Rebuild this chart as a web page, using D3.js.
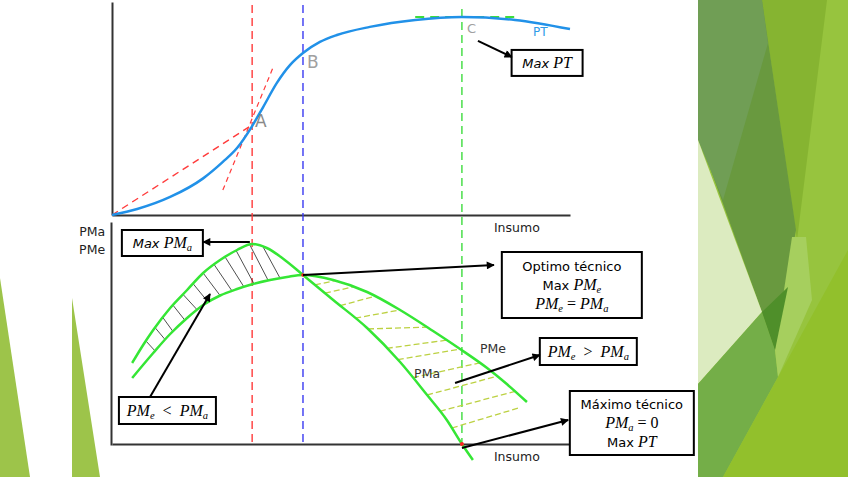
<!DOCTYPE html>
<html>
<head>
<meta charset="utf-8">
<script src="https://cdn.jsdelivr.net/npm/d3@7"></script>
<style>
  body { margin: 0; background: #fff; }
  svg { display: block; }
</style>
</head>
<body>
<div id="chart"></div>
<script>
// ---- data (Insumo on x, 0..10) ----
const insumoPT = [0, 0.55, 1.27, 1.99, 2.42, 2.73, 3.06, 3.30, 3.60, 3.89, 4.17, 4.54, 4.91, 5.63, 6.62, 7.64, 8.80, 10];
const valuesPT = [0, 3.0, 9.1, 18.5, 26.8, 33.8, 44.9, 54.5, 66.7, 75.8, 81.8, 87.4, 90.9, 95.0, 98.5, 100, 98.5, 93.9];

const insumoPMa = [0.44, 0.68, 0.90, 1.27, 1.64, 1.99, 2.36, 2.73, 3.06, 3.38, 3.73, 4.17, 4.83, 5.57, 6.29, 6.88, 7.31, 7.64, 7.88];
const valuesPMa = [40.5, 49.5, 57, 68, 77, 85.5, 92, 97, 100, 98, 92.75, 84.5, 72, 58, 41, 24.5, 12, 0, -8];

const insumoPMe = [0.44, 0.90, 1.27, 1.64, 1.99, 2.36, 2.73, 3.08, 3.45, 3.82, 4.17, 4.83, 5.57, 6.29, 7.01, 7.60, 8.19, 8.62, 9.06];
const valuesPMe = [33, 45.5, 55, 63, 69.5, 74.25, 77.5, 80, 82, 83.5, 84.5, 82, 76, 67, 56.5, 47.5, 38, 30, 21];

// points A (max PMa), B (max PMe), C (max PT)
const pointNames = ["A", "B", "C"];
const pointInsumo = [3.06, 4.17, 7.64];

// hatching: start on PMa, end towards PMe
const hatchLeftFrom = [0.74, 0.94, 1.11, 1.33, 1.55, 1.77, 1.99, 2.23, 2.47, 2.71, 3.01, 3.30];
const hatchLeftTo   = [0.94, 1.16, 1.33, 1.59, 1.86, 2.10, 2.36, 2.62, 2.88, 3.10, 3.41, 3.67];
const hatchRightFrom = [4.43, 4.65, 4.98, 5.31, 5.59, 6.00, 6.24, 6.57, 6.88, 7.16, 7.42];
const hatchRightTo   = [4.87, 5.26, 5.74, 6.29, 6.88, 7.31, 7.60, 8.03, 8.41, 8.80, 8.91];

// tangent at A, ray from origin, flat tangent at C
const rayOA = [[0, 0], [3.06, 45.5]];
const tangentA = [[2.42, 12.6], [3.52, 74.7]];
const flatC = [[6.62, 100], [8.80, 100]];

const W = 848, H = 477;
const svg = d3.select('#chart').append('svg').attr('width', W).attr('height', H);

// ---- slide decoration ----
const decor = [
  { c: '#97c43e', p: [[698, 0], [848, 0], [848, 477], [698, 477]] },
  { c: '#86b431', p: [[762, 0], [827, 0], [797, 240]] },
  { c: '#69993f', p: [[762, 0], [796, 230], [775, 350], [762, 312], [700, 140]] },
  { c: '#709e55', p: [[698, 0], [762, 0], [768, 43], [723, 200], [698, 140]] },
  { c: '#dcebc0', p: [[698, 140], [762, 312], [698, 384]] },
  { c: '#74ae48', p: [[698, 384], [762, 312], [775, 350], [778, 377], [723, 477], [698, 477]] },
  { c: '#a6cf5e', p: [[792, 237], [806, 237], [812, 300], [778, 377], [775, 350]] },
  { c: '#4f8f2a', p: [[762, 312], [788, 287], [775, 350]] },
  { c: '#92c02c', p: [[848, 250], [848, 477], [723, 477]] },
  { c: '#9dc44a', p: [[0, 278], [30, 477], [0, 477]] },
  { c: '#9dc44a', p: [[72, 298], [100, 477], [72, 477]] }
];
svg.append('g').selectAll('polygon').data(decor).enter().append('polygon')
  .attr('points', d => d.p.map(q => q.join(',')).join(' '))
  .attr('fill', d => d.c);

// ---- scales ----
const x = d3.scaleLinear().domain([0, 10]).range([112, 570]);
const yTop = d3.scaleLinear().domain([0, 100]).range([215, 17]);
const yBot = d3.scaleLinear().domain([0, 100]).range([444, 244]);

const interp = (xs, ys, v) => {
  const i = Math.max(1, Math.min(xs.length - 1, d3.bisectLeft(xs, v)));
  const t = (v - xs[i - 1]) / (xs[i] - xs[i - 1]);
  return ys[i - 1] + t * (ys[i] - ys[i - 1]);
};

// markers
const defs = svg.append('defs');
defs.append('marker').attr('id', 'arrow')
  .attr('viewBox', '0 0 10 10').attr('refX', 9).attr('refY', 5)
  .attr('markerWidth', 10).attr('markerHeight', 8)
  .attr('markerUnits', 'userSpaceOnUse').attr('orient', 'auto')
  .append('path').attr('d', 'M0,0 L10,5 L0,10 z').attr('fill', '#000');

// ---- axes ----
const axisColor = '#333';
svg.append('g').attr('transform', `translate(${x(0)},0)`)
  .call(d3.axisLeft(yTop.copy().domain([0, 107.5]).range([215, 2])).ticks(0).tickSizeOuter(0));
svg.append('g').attr('transform', `translate(0,${yTop(0)})`)
  .call(d3.axisBottom(x).ticks(0).tickSizeOuter(0));
svg.append('g').attr('transform', `translate(${x(0) - 1},0)`)
  .call(d3.axisLeft(yBot.copy().domain([-0.5, 111]).range([445, 222])).ticks(0).tickSizeOuter(0));
svg.append('g').attr('transform', `translate(0,${yBot(0)})`)
  .call(d3.axisBottom(x.copy().domain([-0.02, 10])).ticks(0).tickSizeOuter(0));
svg.selectAll('.domain').attr('stroke', axisColor).attr('stroke-width', 2);

// ---- vertical guide lines ----
const guideColors = ['#ff3b3b', '#3a3af2', '#3ddc3d'];
svg.append('g').selectAll('line').data(pointInsumo).enter().append('line')
  .attr('x1', d => x(d)).attr('x2', d => x(d))
  .attr('y1', (d, i) => i === 2 ? yTop(104) : yTop(106))
  .attr('y2', yBot(-1))
  .attr('stroke', (d, i) => guideColors[i])
  .attr('stroke-width', 1.4)
  .attr('stroke-dasharray', '8,5');

const lineTop = d3.line().x(d => x(d[0])).y(d => yTop(d[1]));
const lineBot = d3.line().x(d => x(d[0])).y(d => yBot(d[1]));

// ray and tangents
svg.append('path').attr('d', lineTop(rayOA)).attr('fill', 'none')
  .attr('stroke', '#ff3b3b').attr('stroke-width', 1.4).attr('stroke-dasharray', '7,5');
svg.append('path').attr('d', lineTop(tangentA)).attr('fill', 'none')
  .attr('stroke', '#ff3b3b').attr('stroke-width', 1.2).attr('stroke-dasharray', '5,4');
svg.append('path').attr('d', lineTop(flatC)).attr('fill', 'none')
  .attr('stroke', '#3ddc3d').attr('stroke-width', 2).attr('stroke-dasharray', '9,6');

// ---- PT curve ----
const curveTop = d3.line().x(d => x(d[0])).y(d => yTop(d[1])).curve(d3.curveMonotoneX);
svg.append('path')
  .attr('d', curveTop(d3.zip(insumoPT, valuesPT)))
  .attr('fill', 'none').attr('stroke', '#2191e8').attr('stroke-width', 2.5);

// ---- hatching ----
svg.append('g').selectAll('line').data(hatchLeftFrom).enter().append('line')
  .attr('x1', d => x(d)).attr('y1', d => yBot(interp(insumoPMa, valuesPMa, d)))
  .attr('x2', (d, i) => x(hatchLeftTo[i]))
  .attr('y2', (d, i) => yBot(interp(insumoPMe, valuesPMe, hatchLeftTo[i])))
  .attr('stroke', '#222').attr('stroke-width', 0.8);

svg.append('g').selectAll('line').data(hatchRightFrom).enter().append('line')
  .attr('x1', d => x(d)).attr('y1', d => yBot(interp(insumoPMa, valuesPMa, d)))
  .attr('x2', (d, i) => x(hatchRightTo[i]))
  .attr('y2', (d, i) => {
    const y1 = yBot(interp(insumoPMa, valuesPMa, d));
    const yUp = y1 - 0.3 * (x(hatchRightTo[i]) - x(d));
    const yCurve = yBot(interp(insumoPMe, valuesPMe, hatchRightTo[i]));
    return Math.max(yUp, yCurve);
  })
  .attr('stroke', '#bcd142').attr('stroke-width', 1.3).attr('stroke-dasharray', '6,3');

// ---- PMa / PMe curves ----
const curveBot = d3.line().x(d => x(d[0])).y(d => yBot(d[1])).curve(d3.curveMonotoneX);
svg.append('path').attr('d', curveBot(d3.zip(insumoPMa, valuesPMa)))
  .attr('fill', 'none').attr('stroke', '#35e635').attr('stroke-width', 2.5);
svg.append('path').attr('d', curveBot(d3.zip(insumoPMe, valuesPMe)))
  .attr('fill', 'none').attr('stroke', '#35e635').attr('stroke-width', 2.5);

// small dots
svg.append('circle').attr('cx', x(pointInsumo[2])).attr('cy', yBot(0)).attr('r', 2).attr('fill', '#f22');
svg.append('circle').attr('cx', x(pointInsumo[1])).attr('cy', yBot(84.5)).attr('r', 1.8).attr('fill', '#f22');

// ---- text labels ----
const SANS = 'DejaVu Sans, Verdana, sans-serif';
const SERIF = 'Liberation Serif, DejaVu Serif, serif';

const labels = [
  { t: 'A', x: 3.12, y: 44.4, top: true, size: 17, color: '#8a8a8a', anchor: 'start' },
  { t: 'B', x: 4.26, y: 74.2, top: true, size: 17, color: '#a0a0a0', anchor: 'start' },
  { t: 'C', x: 7.75, y: 91.9, top: true, size: 13, color: '#a0a0a0', anchor: 'start' },
  { t: 'PT', x: 9.19, y: 90.4, top: true, size: 12, color: '#2f9be8', anchor: 'start' },
  { t: 'Insumo', x: 8.84, y: -8.7, top: true, size: 12.5, color: '#222', anchor: 'middle' },
  { t: 'Insumo', x: 8.84, y: -8.5, top: false, size: 12.5, color: '#222', anchor: 'middle' },
  { t: 'PMe', x: 8.32, y: 45.5, top: false, size: 12.5, color: '#333', anchor: 'middle' },
  { t: 'PMa', x: 6.88, y: 33, top: false, size: 12.5, color: '#333', anchor: 'middle' },
  { t: 'PMa', x: -0.15, y: 104, top: false, size: 12.5, color: '#222', anchor: 'end' },
  { t: 'PMe', x: -0.15, y: 95, top: false, size: 12.5, color: '#222', anchor: 'end' }
];
svg.append('g').selectAll('text').data(labels).enter().append('text')
  .attr('x', d => x(d.x)).attr('y', d => d.top ? yTop(d.y) : yBot(d.y))
  .attr('text-anchor', d => d.anchor)
  .attr('font-family', SANS).attr('font-size', d => d.size)
  .attr('fill', d => d.color).text(d => d.t);

// ---- annotation boxes ----
// parts: [text, font, italic, subscript]
const boxes = [
  { top: true, cx: 9.50, cy: 76.8, w: 71, h: 26, lines: [[['Max ', 's', true], ['PT', 'm', true]]] },
  { top: false, cx: 1.10, cy: 100.5, w: 81, h: 26, lines: [[['Max ', 's', true], ['PM', 'm', true], ['a', 'm', true, true]]] },
  { top: false, cx: 1.21, cy: 16.75, w: 97, h: 27, lines: [[['PM', 'm', true], ['e', 'm', true, true], ['  <  ', 'm', false], ['PM', 'm', true], ['a', 'm', true, true]]] },
  { top: false, cx: 10.04, cy: 79.5, w: 140, h: 66, lines: [
      [['Optimo técnico', 's', false]],
      [['Max ', 's', false], ['PM', 'm', true], ['e', 'm', true, true]],
      [['PM', 'm', true], ['e', 'm', true, true], [' = ', 'm', false], ['PM', 'm', true], ['a', 'm', true, true]]
    ] },
  { top: false, cx: 10.40, cy: 46.25, w: 97, h: 27, lines: [[['PM', 'm', true], ['e', 'm', true, true], ['  >  ', 'm', false], ['PM', 'm', true], ['a', 'm', true, true]]] },
  { top: false, cx: 11.35, cy: 10.5, w: 124, h: 64, lines: [
      [['Máximo técnico', 's', false]],
      [['PM', 'm', true], ['a', 'm', true, true], [' = 0', 'm', false]],
      [['Max ', 's', false], ['PT', 'm', true]]
    ] }
];

boxes.forEach(b => {
  const cx = x(b.cx), cy = b.top ? yTop(b.cy) : yBot(b.cy);
  const g = svg.append('g');
  g.append('rect').attr('x', cx - b.w / 2).attr('y', cy - b.h / 2)
    .attr('width', b.w).attr('height', b.h)
    .attr('fill', '#fff').attr('stroke', '#000').attr('stroke-width', 2);
  const step = 19;
  const y0 = cy - (b.lines.length - 1) * step / 2;
  b.lines.forEach((parts, li) => {
    const t = g.append('text').attr('x', cx).attr('y', y0 + li * step + 5)
      .attr('text-anchor', 'middle').attr('fill', '#000')
      .style('white-space', 'pre');
    let shifted = false;
    parts.forEach(p => {
      const ts = t.append('tspan').text(p[0])
        .attr('font-family', p[1] === 's' ? SANS : SERIF)
        .attr('font-size', p[1] === 's' ? (p[2] ? 13 : 13) : (p[3] ? 10.5 : 16))
        .attr('font-style', p[2] ? 'italic' : 'normal');
      if (p[3] && !shifted) { ts.attr('dy', 3); shifted = true; }
      else if (!p[3] && shifted) { ts.attr('dy', -3); shifted = false; }
    });
  });
});

// ---- arrows ----
const arrows = [
  { top: true, p: [[7.99, 87.9], [8.73, 79.8]] },
  { top: false, p: [[3.01, 101], [1.99, 101]] },
  { top: false, p: [[0.83, 23.5], [2.14, 75]] },
  { top: false, p: [[4.17, 84.5], [8.34, 89.5]] },
  { top: false, p: [[7.49, 30.5], [9.34, 44.5]] },
  { top: false, p: [[7.64, -2], [9.96, 12]] }
];
svg.append('g').selectAll('path').data(arrows).enter().append('path')
  .attr('d', d => (d.top ? lineTop : lineBot)(d.p))
  .attr('fill', 'none').attr('stroke', '#000').attr('stroke-width', 2)
  .attr('marker-end', 'url(#arrow)');
</script>
</body>
</html>
